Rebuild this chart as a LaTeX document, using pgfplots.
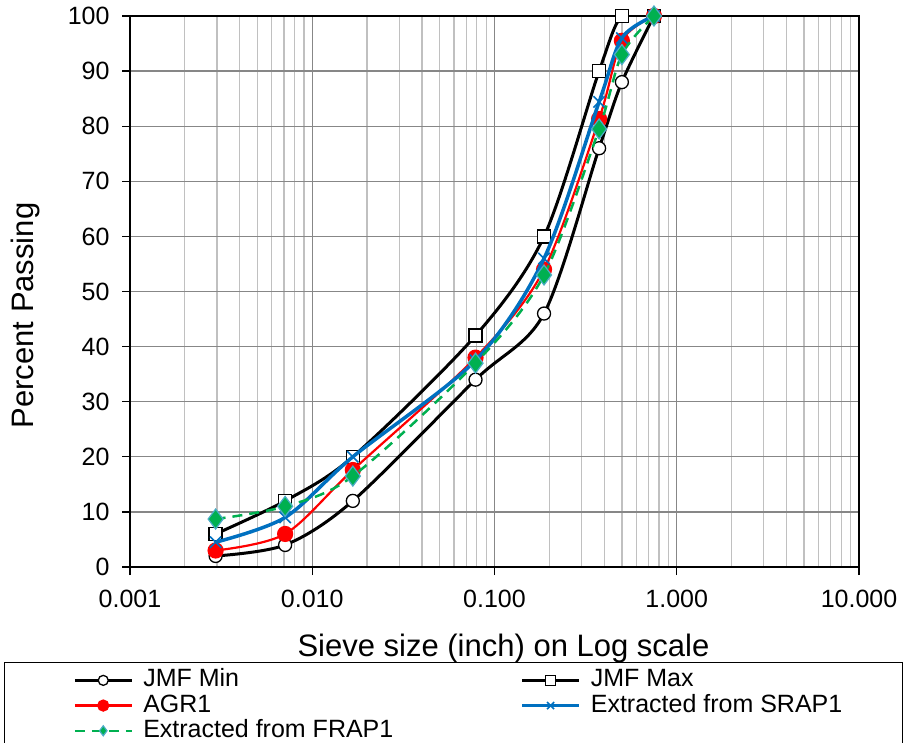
\documentclass[border=0pt]{standalone}
\usepackage{pgfplots}
\pgfplotsset{compat=1.18}
\usepackage{fontspec}
\setmainfont{Liberation Sans}
\definecolor{gridmaj}{HTML}{878787}
\definecolor{gridmin}{HTML}{C0C0C0}
\definecolor{xred}{HTML}{FF0000}
\definecolor{xblue}{HTML}{0070C0}
\definecolor{xgreen}{HTML}{00B050}
\definecolor{xcyan}{HTML}{4BACC6}
\begin{document}
\begin{tikzpicture}
\begin{axis}[
  xmode=log, log basis x=10,
  scale only axis, width=729pt, height=551pt,
  xmin=0.001, xmax=10, ymin=0, ymax=100,
  xtick={0.001,0.01,0.1,1,10},
  xticklabels={0.001,0.010,0.100,1.000,10.000},
  minor xtick={0.002,0.003,0.004,0.005,0.006,0.007,0.008,0.009,
               0.02,0.03,0.04,0.05,0.06,0.07,0.08,0.09,
               0.2,0.3,0.4,0.5,0.6,0.7,0.8,0.9,
               2,3,4,5,6,7,8,9},
  ytick={0,10,...,100},
  grid=both,
  major grid style={gridmaj, line width=1.3pt},
  minor grid style={gridmin, line width=1.3pt},
  tick align=outside, major tick length=8pt, minor tick length=0pt,
  xtick pos=left, ytick pos=left,
  axis line style={line width=1.8pt, black},
  tick style={black, line width=1.2pt},
  tick label style={font=\fontsize{25}{30}\selectfont},
  xticklabel style={yshift=-12pt},
  yticklabel style={xshift=-9pt},
  /pgf/number format/assume math mode=true,
  label style={font=\fontsize{31}{36}\selectfont},
  xlabel={Sieve size (inch) on Log scale},
  ylabel={Percent Passing},
  xlabel style={at={(axis description cs:0.5123,-0.1480)}, anchor=center},
  ylabel style={at={(axis description cs:-0.1438,0.4564)}, anchor=center},
  clip mode=individual,
  legend columns=2,
  legend cell align=left,
  legend style={at={(axis description cs:-0.0781,-0.1845)}, anchor=north west,
    draw=none, fill=none, inner sep=0pt,
    font=\fontsize{25}{28}\selectfont,
    nodes={inner xsep=0pt, inner ysep=0pt, text height=18pt, text depth=5pt, anchor=west},
    row sep=2.2pt,
    /tikz/every odd column/.append style={column sep=10pt},
    /tikz/every even column/.append style={column sep=127pt}},
  legend image code/.code={\draw[mark repeat=2,mark phase=2,#1,mark size=5pt] plot coordinates {(0pt,0pt) (28.5pt,0pt) (57pt,0pt)};},
]
\addplot[black, line width=3pt, smooth, mark=*, mark size=6.5pt,
  mark options={fill=white, line width=1.3pt, solid}]
  coordinates {(0.00295,2) (0.0071,4) (0.0167,12) (0.0787,34) (0.187,46) (0.375,76) (0.5,88) (0.75,100)};
\addlegendentry{JMF Min}
\addplot[black, line width=3pt, smooth, mark=square*, mark size=6.5pt,
  mark options={fill=white, line width=1.3pt, solid}]
  coordinates {(0.00295,6) (0.0071,12) (0.0167,20) (0.0787,42) (0.187,60) (0.375,90) (0.5,100) (0.75,100)};
\addlegendentry{JMF Max}
\addplot[xred, line width=2.2pt, smooth, mark=*, mark size=7pt,
  mark options={fill=xred, solid}]
  coordinates {(0.00295,3) (0.0071,6) (0.0167,17.6) (0.0787,38) (0.187,54) (0.375,81.3) (0.5,95.5) (0.75,100)};
\addlegendentry{AGR1}
\addplot[xblue, line width=3.5pt, smooth, mark=x, mark size=8pt,
  mark options={line width=1.6pt, solid}]
  coordinates {(0.00295,4.5) (0.0071,9) (0.0167,20) (0.0787,37.5) (0.187,56) (0.375,84.4) (0.5,96) (0.75,100)};
\addlegendentry{Extracted from SRAP1}
\addplot[xgreen, line width=2.5pt, smooth, dash pattern=on 10pt off 7pt, mark=diamond*, mark size=10pt,
  mark options={solid, fill=xgreen, draw=xcyan, line width=1.2pt}]
  coordinates {(0.00295,8.7) (0.0071,11) (0.0167,16.5) (0.0787,37) (0.187,53) (0.375,79.5) (0.5,93) (0.75,100)};
\addlegendentry{Extracted from FRAP1}
\end{axis}
\draw[line width=1pt] (-125pt,-95pt) rectangle (772pt,-190pt);
\pgfresetboundingbox
\useasboundingbox (-130pt,-175pt) rectangle (774pt,567pt);
\end{tikzpicture}
\end{document}
